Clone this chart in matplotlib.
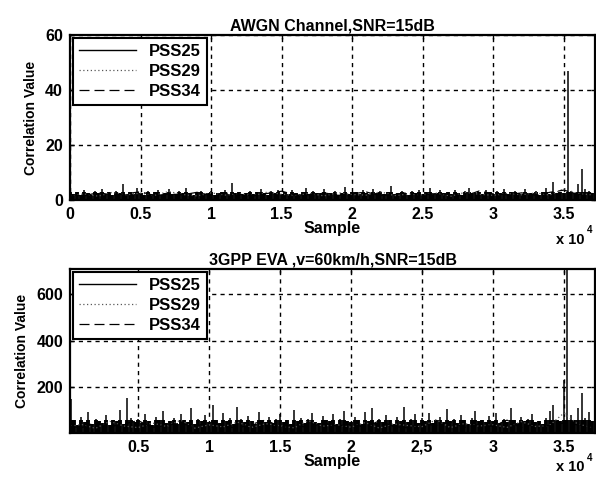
import matplotlib

matplotlib.use("Agg")
import matplotlib.pyplot as plt
import numpy as np
from matplotlib.lines import Line2D

plt.rcParams["font.family"] = ["Liberation Sans", "DejaVu Sans"]
plt.rcParams["font.weight"] = "bold"

SERIES = ["PSS25", "PSS29", "PSS34"]

# --- AWGN channel, SNR = 15 dB (sample step 250 / 1000) ---
awgn_pss25 = [
    3.2, 2.1, 2.8, 1.9, 3.5, 2.4, 2.0, 3.1, 2.6, 4.0, 2.2, 2.9, 1.8, 3.3, 2.5, 5.8, 2.3, 3.0, 2.1, 4.2,
    2.7, 1.9, 3.4, 2.2, 2.8, 3.6, 2.0, 2.5, 3.9, 2.3, 2.1, 3.2, 2.6, 4.4, 2.4, 1.9, 2.8, 3.1, 2.2, 2.7,
    3.3, 2.0, 2.5, 2.9, 3.8, 2.3, 6.2, 2.6, 3.0, 2.1, 2.7, 3.4, 2.2, 2.8, 4.1, 2.4, 2.0, 3.2, 2.6, 3.7,
    2.3, 2.9, 2.1, 3.5, 2.5, 2.0, 2.8, 4.3, 2.2, 3.1, 2.6, 2.4, 3.9, 2.1, 2.7, 3.3, 2.0, 2.5, 4.6, 2.3,
    2.8, 3.0, 2.2, 3.6, 2.4, 2.1, 4.0, 2.6, 3.2, 2.3, 2.9, 5.0, 2.2, 2.7, 3.4, 2.5, 2.0, 3.1, 2.6, 3.8,
    2.3, 2.8, 4.2, 2.1, 2.6, 3.5, 2.4, 2.9, 2.2, 3.7, 2.5, 2.0, 3.3, 4.5, 2.4, 2.7, 3.0, 2.2, 3.6, 2.8,
    2.1, 3.2, 2.6, 4.1, 2.3, 2.9, 3.4, 2.5, 2.2, 3.9, 2.7, 2.4, 3.1, 2.0, 2.8, 4.4, 2.3, 6.5, 2.6, 3.0,
    2.4, 47.0, 3.2, 2.5, 5.8, 11.2, 4.0, 3.1, 2.6,
]
awgn_pss29 = [
    1.6, 2.2, 1.4, 2.8, 1.9, 2.5, 1.7, 3.1, 2.0, 1.5, 2.6, 1.8, 2.3, 1.6, 2.9, 2.1, 1.7, 2.4, 1.5, 2.7,
    2.0, 1.8, 3.0, 1.6, 2.2, 1.9, 2.5, 1.4, 2.8, 2.1, 1.7, 2.4, 1.9, 2.6, 1.8, 4.1, 2.3, 1.9,
]
awgn_pss34 = [
    2.0, 1.5, 2.7, 1.8, 2.3, 3.0, 1.6, 2.2, 1.9, 2.8, 1.7, 2.5, 2.1, 1.5, 2.4, 3.2, 1.8, 2.0, 2.6, 1.7,
    2.3, 2.9, 1.6, 2.1, 2.7, 1.8, 2.4, 2.0, 1.5, 3.3, 2.2, 1.9, 2.6, 1.7, 2.8, 3.6, 2.0, 2.4,
]

# --- 3GPP EVA, v = 60 km/h, SNR = 15 dB ---
eva_pss25 = [
    45, 150, 60, 38, 72, 50, 95, 42, 66, 55, 48, 80, 40, 62, 58, 105, 44, 155, 70, 52,
    64, 46, 88, 55, 40, 75, 60, 98, 48, 57, 70, 43, 85, 62, 50, 112, 45, 67, 58, 80,
    52, 125, 60, 47, 90, 55, 68, 42, 115, 63, 50, 78, 58, 45, 95, 62, 53, 72, 48, 66,
    85, 50, 60, 44, 105, 57, 70, 48, 64, 92, 52, 46, 78, 60, 55, 88, 42, 66, 100, 58,
    50, 72, 62, 45, 95, 57, 110, 48, 66, 53, 80, 60, 44, 75, 58, 118, 50, 63, 85, 47,
    68, 55, 90, 46, 60, 72, 52, 108, 57, 64, 48, 82, 60, 45, 70, 98, 55, 62, 50, 76,
    58, 92, 47, 66, 54, 112, 60, 48, 74, 56, 64, 86, 50, 58, 45, 70, 100, 125, 62, 55,
    230, 705, 80, 60, 110, 175, 70, 95, 58,
]
eva_pss29 = [
    30, 42, 25, 55, 35, 28, 48, 33, 60, 26, 40, 31, 52, 29, 45, 36, 27, 58, 34, 41,
    30, 50, 26, 44, 37, 32, 62, 28, 46, 35, 40, 29, 54, 33, 38, 90, 42, 31,
]
eva_pss34 = [
    36, 27, 50, 32, 44, 58, 29, 38, 47, 30, 55, 34, 26, 42, 61, 31, 39, 28, 48, 35,
    43, 30, 57, 33, 27, 46, 37, 52, 29, 41, 34, 60, 28, 45, 36, 48, 40, 33,
]

FINE_STEP = 250
COARSE_STEP = 1000

XTICKS = [0, 5000, 10000, 15000, 20000, 25000, 30000, 35000]
XTICK_LABELS_TOP = ["0", "0.5", "1", "1.5", "2", "2.5", "3", "3.5"]
XTICK_LABELS_BOTTOM = ["0.5", "1", "1.5", "2", "2,5", "3", "3.5"]


def draw_panel(ax, fine, dotted, dashed, band):
    x_fine = np.arange(len(fine)) * FINE_STEP
    x_coarse = np.arange(len(dotted)) * COARSE_STEP
    fine = np.asarray(fine)
    # dense noise floor drawn thick, spikes drawn thin on top
    ax.vlines(x_fine, 0, np.minimum(fine, band), color="black", linewidth=2.8,
              capstyle="butt")
    ax.vlines(x_fine, 0, fine, color="black", linewidth=1.1)
    ax.plot(x_coarse, dotted, color="0.35", linestyle=(0, (1, 2)), linewidth=0.9)
    ax.plot(x_coarse, dashed, color="black", linestyle=(0, (8, 4)), linewidth=0.9)

    ax.grid(True, color="black", linestyle=(0, (3, 3)), linewidth=1.0)
    ax.set_axisbelow(True)
    for spine in ax.spines.values():
        spine.set_linewidth(1.6)
    ax.tick_params(direction="in", length=3, width=1, top=True, right=True,
                   labelsize=11.5, pad=5)

    handles = [
        Line2D([], [], color="black", linewidth=1.0),
        Line2D([], [], color="0.35", linestyle=(0, (1, 2)), linewidth=0.9),
        Line2D([], [], color="black", linestyle=(0, (8, 4)), linewidth=0.9),
    ]
    leg = ax.legend(handles, SERIES, loc="upper left", fancybox=False,
                    framealpha=1, edgecolor="black", handlelength=3.4,
                    borderaxespad=0.2, labelspacing=0.3, borderpad=0.35,
                    prop={"size": 12, "weight": "bold"})
    leg.get_frame().set_linewidth(1.5)


fig = plt.figure(figsize=(5.96, 4.80), dpi=100)

ax1 = fig.add_axes([0.1174, 0.5833, 0.881, 0.3438])
draw_panel(ax1, awgn_pss25, awgn_pss29, awgn_pss34, band=3.0)
ax1.set_xlim(0, 37200)
ax1.set_ylim(0, 60)
ax1.set_yticks([0, 20, 40, 60])
ax1.set_yticklabels(["0", "20", "40", "60"], fontweight="bold")
ax1.set_xticks(XTICKS)
ax1.set_xticklabels(XTICK_LABELS_TOP, fontweight="bold")
ax1.set_title("AWGN Channel,SNR=15dB", fontsize=11.5, fontweight="bold", pad=3)
ax1.set_xlabel("Sample", fontsize=11.5, fontweight="bold", labelpad=-1)
ax1.set_ylabel("Correlation Value", fontsize=10, fontweight="bold", labelpad=5)

ax2 = fig.add_axes([0.1174, 0.0979, 0.881, 0.3417])
draw_panel(ax2, eva_pss25, eva_pss29, eva_pss34, band=60)
ax2.set_xlim(200, 37200)
ax2.set_ylim(5, 707)
ax2.set_yticks([200, 400, 600])
ax2.set_yticklabels(["200", "400", "600"], fontweight="bold")
ax2.set_xticks(XTICKS[1:])
ax2.set_xticklabels(XTICK_LABELS_BOTTOM, fontweight="bold")
ax2.set_title("3GPP EVA ,v=60km/h,SNR=15dB", fontsize=11.5, fontweight="bold", pad=3)
ax2.set_xlabel("Sample", fontsize=11.5, fontweight="bold", labelpad=-1)
ax2.set_ylabel("Correlation Value", fontsize=10, fontweight="bold", labelpad=5)

# MATLAB-style exponent labels
for y in (0.492, 0.018):
    fig.text(0.933, y, "x 10", fontsize=10.5, fontweight="bold")
    fig.text(0.984, y + 0.022, "4", fontsize=7, fontweight="bold")

fig.savefig("out.png", dpi=100)
